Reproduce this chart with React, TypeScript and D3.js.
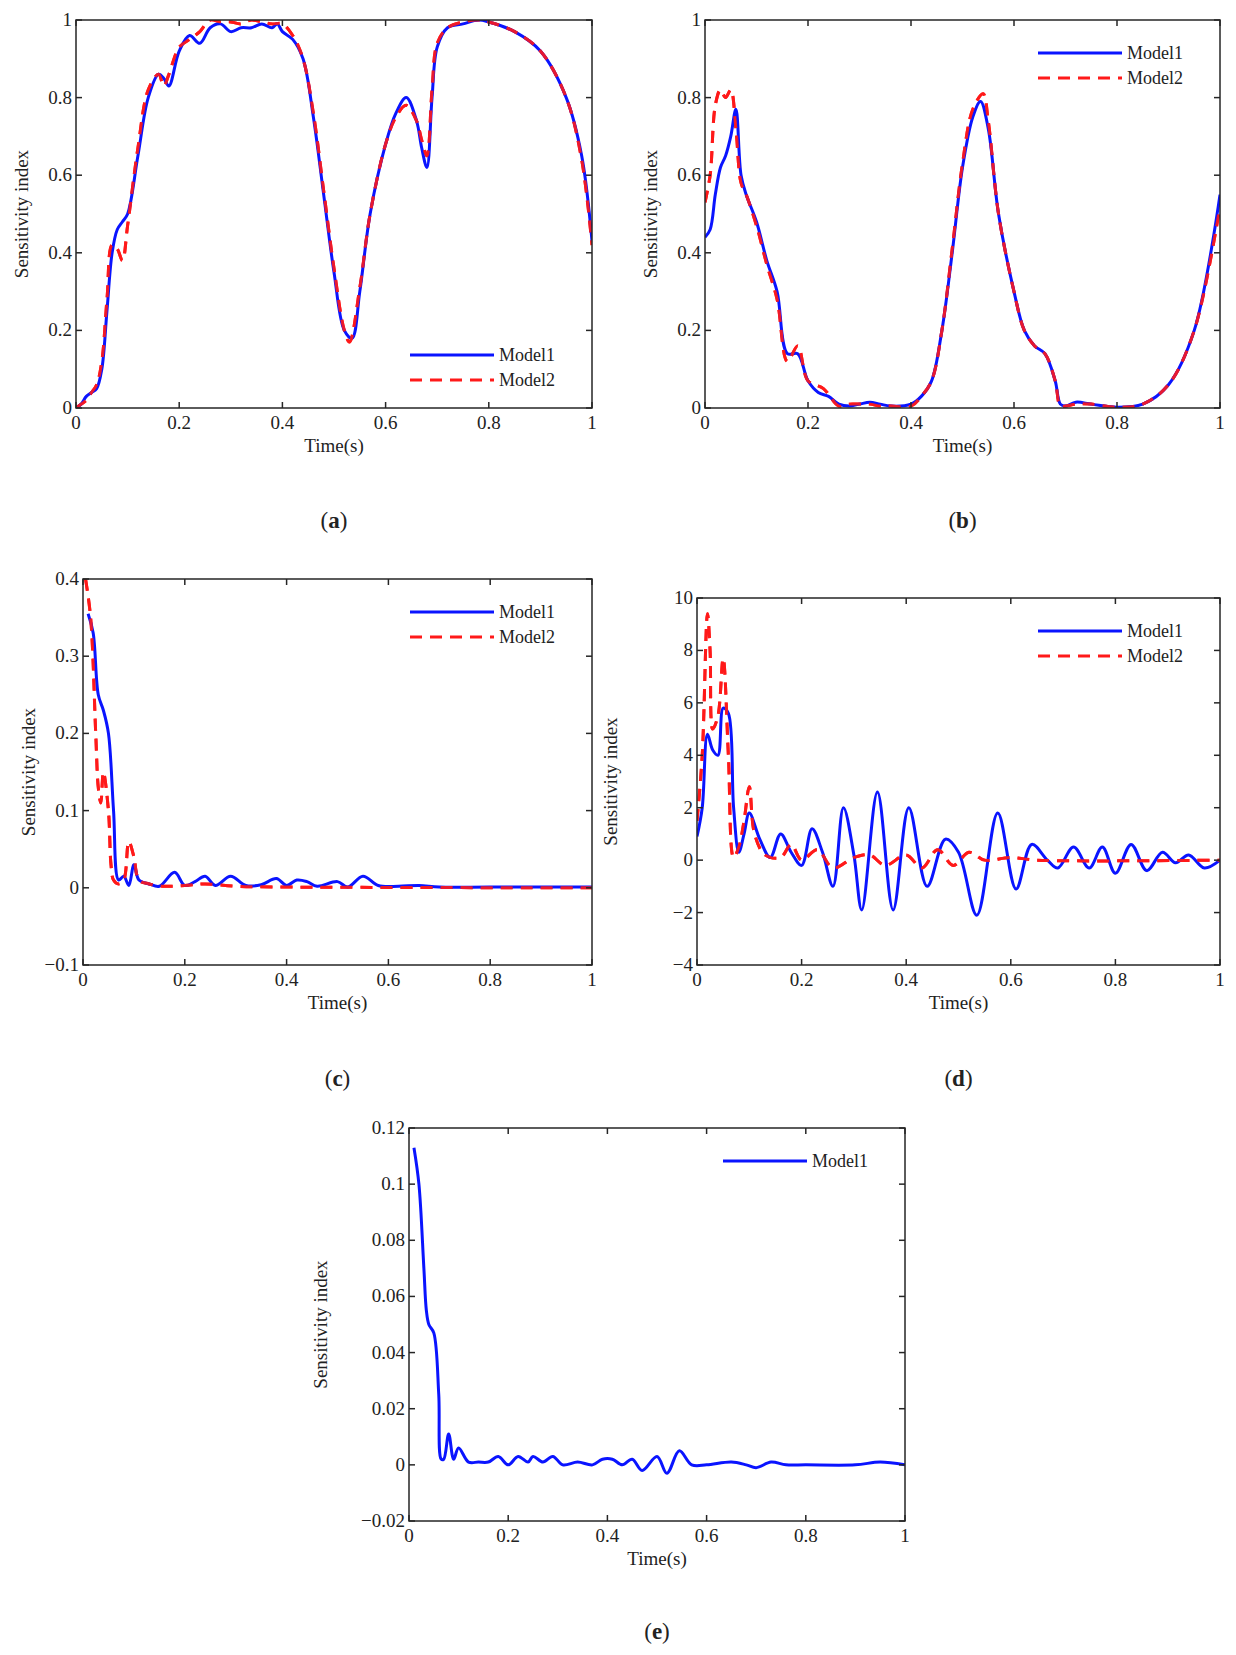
import * as d3 from 'd3'

type Pt = [number, number]

const xTicks = [0, 0.2, 0.4, 0.6, 0.8, 1]

const aModel1: Pt[] = [[0,0],[0.01,0.01],[0.02,0.03],[0.03,0.04],[0.04,0.05],[0.05,0.1],[0.06,0.25],[0.07,0.4],[0.08,0.46],[0.09,0.48],[0.1,0.5],[0.12,0.65],[0.14,0.8],[0.16,0.86],[0.17,0.85],[0.18,0.83],[0.2,0.92],[0.22,0.96],[0.24,0.94],[0.26,0.98],[0.28,0.99],[0.3,0.97],[0.32,0.98],[0.34,0.98],[0.36,0.99],[0.38,0.98],[0.39,0.99],[0.4,0.97],[0.42,0.95],[0.44,0.9],[0.46,0.75],[0.48,0.55],[0.5,0.35],[0.52,0.2],[0.535,0.18],[0.55,0.3],[0.57,0.5],[0.6,0.68],[0.62,0.76],[0.64,0.8],[0.66,0.74],[0.67,0.67],[0.68,0.62],[0.69,0.8],[0.7,0.93],[0.72,0.98],[0.75,0.99],[0.78,1.0],[0.8,0.995],[0.85,0.97],[0.9,0.92],[0.95,0.8],[0.98,0.65],[1,0.43]]
const aModel2: Pt[] = [[0,0],[0.01,0.01],[0.02,0.02],[0.03,0.04],[0.04,0.06],[0.05,0.12],[0.06,0.28],[0.07,0.42],[0.08,0.41],[0.09,0.38],[0.1,0.47],[0.12,0.67],[0.14,0.82],[0.16,0.86],[0.17,0.83],[0.18,0.86],[0.2,0.93],[0.22,0.95],[0.24,0.97],[0.26,1.0],[0.28,0.995],[0.3,0.995],[0.32,0.99],[0.34,1.0],[0.36,0.995],[0.38,0.99],[0.4,0.99],[0.42,0.96],[0.44,0.9],[0.46,0.76],[0.48,0.56],[0.5,0.36],[0.52,0.2],[0.53,0.17],[0.55,0.31],[0.57,0.5],[0.6,0.68],[0.62,0.75],[0.64,0.78],[0.66,0.74],[0.67,0.69],[0.68,0.65],[0.69,0.82],[0.7,0.94],[0.72,0.98],[0.75,0.995],[0.78,1.0],[0.8,0.995],[0.85,0.97],[0.9,0.92],[0.95,0.8],[0.98,0.64],[1,0.42]]

const bModel1: Pt[] = [[0,0.44],[0.01,0.46],[0.02,0.55],[0.03,0.62],[0.04,0.65],[0.05,0.7],[0.06,0.77],[0.07,0.6],[0.08,0.55],[0.1,0.48],[0.12,0.38],[0.14,0.3],[0.16,0.14],[0.18,0.14],[0.2,0.07],[0.22,0.04],[0.24,0.03],[0.26,0.01],[0.28,0.005],[0.3,0.01],[0.32,0.015],[0.34,0.01],[0.36,0.005],[0.4,0.01],[0.42,0.03],[0.44,0.07],[0.46,0.2],[0.48,0.4],[0.5,0.62],[0.52,0.75],[0.535,0.79],[0.55,0.72],[0.57,0.5],[0.6,0.3],[0.62,0.2],[0.64,0.16],[0.66,0.14],[0.68,0.07],[0.69,0.01],[0.7,0.005],[0.72,0.015],[0.75,0.01],[0.8,0.002],[0.85,0.01],[0.9,0.06],[0.95,0.2],[1,0.55]]
const bModel2: Pt[] = [[0,0.53],[0.01,0.6],[0.02,0.78],[0.03,0.82],[0.04,0.8],[0.05,0.82],[0.06,0.72],[0.07,0.58],[0.08,0.55],[0.1,0.47],[0.12,0.37],[0.14,0.28],[0.16,0.12],[0.18,0.16],[0.2,0.07],[0.23,0.05],[0.26,0.005],[0.28,0.01],[0.3,0.01],[0.32,0.01],[0.34,0.005],[0.36,0.005],[0.4,0.005],[0.42,0.03],[0.44,0.07],[0.46,0.2],[0.48,0.41],[0.5,0.63],[0.52,0.77],[0.54,0.81],[0.55,0.74],[0.57,0.5],[0.6,0.3],[0.62,0.2],[0.64,0.16],[0.66,0.14],[0.68,0.07],[0.69,0.005],[0.7,0.005],[0.72,0.01],[0.75,0.01],[0.8,0.002],[0.85,0.01],[0.9,0.06],[0.95,0.2],[1,0.52]]

const cModel1: Pt[] = [[0.01,0.355],[0.02,0.33],[0.03,0.25],[0.04,0.23],[0.05,0.2],[0.06,0.1],[0.07,0.01],[0.08,0.015],[0.09,0.003],[0.1,0.03],[0.11,0.01],[0.13,0.005],[0.15,0.002],[0.18,0.02],[0.2,0.003],[0.22,0.008],[0.24,0.015],[0.26,0.003],[0.29,0.015],[0.32,0.003],[0.35,0.004],[0.38,0.012],[0.4,0.003],[0.42,0.01],[0.44,0.008],[0.46,0.002],[0.5,0.008],[0.52,0.001],[0.55,0.015],[0.58,0.003],[0.62,0.002],[0.66,0.003],[0.7,0.001],[0.8,0.001],[1,0.001]]
const cModel2: Pt[] = [[0.005,0.4],[0.015,0.35],[0.025,0.2],[0.03,0.13],[0.035,0.11],[0.04,0.15],[0.05,0.1],[0.055,0.03],[0.06,0.01],[0.07,0.005],[0.08,0.01],[0.09,0.06],[0.1,0.04],[0.11,0.01],[0.13,0.005],[0.16,0.002],[0.2,0.003],[0.24,0.005],[0.3,0.002],[0.4,0.001],[1,0]]

const dModel1: Pt[] = [[0,0.9],[0.01,2],[0.02,4.8],[0.03,4.2],[0.04,4],[0.05,5.8],[0.06,5.6],[0.07,2],[0.08,0.3],[0.09,1],[0.1,1.8],[0.12,0.8],[0.14,0.1],[0.16,1],[0.18,0.3],[0.2,-0.2],[0.22,1.2],[0.24,0.3],[0.26,-1],[0.28,2],[0.3,0.2],[0.315,-1.9],[0.345,2.6],[0.375,-1.9],[0.405,2],[0.44,-1],[0.475,0.8],[0.5,0.3],[0.535,-2.1],[0.575,1.8],[0.61,-1.1],[0.64,0.6],[0.67,0],[0.69,-0.3],[0.72,0.5],[0.75,-0.3],[0.775,0.5],[0.8,-0.5],[0.83,0.6],[0.86,-0.4],[0.89,0.3],[0.915,-0.1],[0.94,0.2],[0.97,-0.3],[1,0]]
const dModel2: Pt[] = [[0,1.5],[0.01,4],[0.02,9.4],[0.025,8],[0.03,5],[0.04,5.5],[0.05,7.7],[0.06,4],[0.07,0.1],[0.08,0.5],[0.09,1.5],[0.1,2.8],[0.11,1],[0.13,0.2],[0.16,0.1],[0.18,0.6],[0.2,0],[0.23,0.4],[0.26,-0.3],[0.3,0.1],[0.33,0.2],[0.36,-0.2],[0.4,0.2],[0.43,-0.3],[0.46,0.4],[0.49,-0.2],[0.52,0.3],[0.55,0],[0.6,0.1],[0.65,0],[1,0]]

const eModel1: Pt[] = [[0.01,0.113],[0.02,0.1],[0.03,0.07],[0.035,0.055],[0.04,0.05],[0.05,0.047],[0.06,0.025],[0.065,0.002],[0.07,0.002],[0.08,0.011],[0.09,0.002],[0.1,0.006],[0.12,0.001],[0.14,0.001],[0.16,0.001],[0.18,0.003],[0.2,0],[0.22,0.003],[0.24,0.001],[0.25,0.003],[0.27,0.001],[0.29,0.003],[0.31,0],[0.34,0.001],[0.37,0],[0.39,0.002],[0.41,0.002],[0.43,0],[0.45,0.002],[0.47,-0.002],[0.5,0.003],[0.52,-0.003],[0.545,0.005],[0.57,0],[0.6,0],[0.65,0.001],[0.68,0],[0.7,-0.001],[0.73,0.001],[0.76,0],[0.8,0],[0.9,0],[0.95,0.001],[1,0]]

type Panel = {
  x: number; y: number; w: number; h: number
  yDomain: [number, number]; yTicks: number[]
  m1: Pt[]; m2?: Pt[]
  legend: 'top' | 'bottom'
  tag: string
  legendDx: number
}

const panels: Panel[] = [
  { x: 76, y: 20, w: 516, h: 388, yDomain: [0, 1], yTicks: [0, 0.2, 0.4, 0.6, 0.8, 1], m1: aModel1, m2: aModel2, legend: 'bottom', tag: 'a', legendDx: 100 },
  { x: 705, y: 20, w: 515, h: 388, yDomain: [0, 1], yTicks: [0, 0.2, 0.4, 0.6, 0.8, 1], m1: bModel1, m2: bModel2, legend: 'top', tag: 'b', legendDx: 100 },
  { x: 83, y: 579, w: 509, h: 386, yDomain: [-0.1, 0.4], yTicks: [-0.1, 0, 0.1, 0.2, 0.3, 0.4], m1: cModel1, m2: cModel2, legend: 'top', tag: 'c', legendDx: 100 },
  { x: 697, y: 598, w: 523, h: 367, yDomain: [-4, 10], yTicks: [-4, -2, 0, 2, 4, 6, 8, 10], m1: dModel1, m2: dModel2, legend: 'top', tag: 'd', legendDx: 100 },
  { x: 409, y: 1128, w: 496, h: 393, yDomain: [-0.02, 0.12], yTicks: [-0.02, 0, 0.02, 0.04, 0.06, 0.08, 0.1, 0.12], m1: eModel1, legend: 'top', tag: 'e', legendDx: 100 },
]

const font = '"Liberation Serif", "Times New Roman", serif'
const fmt = (v: number) => (v < 0 ? '\u2212' + String(+(-v).toFixed(3)) : String(+v.toFixed(3)))

function PanelView({ p }: { p: Panel }) {
  const x = d3.scaleLinear().domain([0, 1]).range([0, p.w])
  const y = d3.scaleLinear().domain(p.yDomain).range([p.h, 0])
  const line = d3.line<Pt>().x(d => x(d[0])).y(d => y(d[1])).curve(d3.curveCatmullRom.alpha(0.5))
  const tl = 6
  const ly = p.legend === 'top' ? 33 : p.h - 53
  const lx = p.w - 182
  return (
    <g transform={`translate(${p.x},${p.y})`} fontFamily={font} fill="#222">
      <defs>
        <clipPath id={`clip-${p.tag}`}><rect width={p.w} height={p.h} /></clipPath>
      </defs>
      <g clipPath={`url(#clip-${p.tag})`}>
        {p.m2 && <path d={line(p.m2) ?? ''} fill="none" stroke="#ff1a1a" strokeWidth={3} strokeDasharray="12 8" />}
        <path d={line(p.m1) ?? ''} fill="none" stroke="#0a14ff" strokeWidth={3} />
        {p.m2 && <path d={line(p.m2) ?? ''} fill="none" stroke="#ff1a1a" strokeWidth={3} strokeDasharray="12 8" opacity={0.9} />}
      </g>
      <rect width={p.w} height={p.h} fill="none" stroke="#262626" strokeWidth={1.5} />
      {xTicks.map(t => (
        <g key={t}>
          <line x1={x(t)} x2={x(t)} y1={p.h} y2={p.h - tl} stroke="#262626" strokeWidth={1.5} />
          <line x1={x(t)} x2={x(t)} y1={0} y2={tl} stroke="#262626" strokeWidth={1.5} />
          <text x={x(t)} y={p.h + 21} textAnchor="middle" fontSize={19}>{fmt(t)}</text>
        </g>
      ))}
      {p.yTicks.map(t => (
        <g key={t}>
          <line x1={0} x2={tl} y1={y(t)} y2={y(t)} stroke="#262626" strokeWidth={1.5} />
          <line x1={p.w} x2={p.w - tl} y1={y(t)} y2={y(t)} stroke="#262626" strokeWidth={1.5} />
          <text x={-4} y={y(t) + 6} textAnchor="end" fontSize={19}>{fmt(t)}</text>
        </g>
      ))}
      <text x={p.w / 2} y={p.h + 44} textAnchor="middle" fontSize={19}>Time(s)</text>
      <text transform={`translate(${p.y > 1000 ? -82 : p.tag === 'd' ? -80 : -48},${p.h / 2}) rotate(-90)`} textAnchor="middle" fontSize={19}>Sensitivity index</text>
      <line x1={lx} x2={lx + 84} y1={ly} y2={ly} stroke="#0a14ff" strokeWidth={3} />
      <text x={lx + 89} y={ly + 6} fontSize={18}>Model1</text>
      {p.m2 && (
        <>
          <line x1={lx} x2={lx + 84} y1={ly + 25} y2={ly + 25} stroke="#ff1a1a" strokeWidth={3} strokeDasharray="12 8" />
          <text x={lx + 89} y={ly + 31} fontSize={18}>Model2</text>
        </>
      )}
      <text x={p.w / 2} y={p.h + (p.tag === 'e' ? 118 : p.tag === 'c' || p.tag === 'd' ? 121 : 120)} textAnchor="middle" fontSize={23}>
        (<tspan fontWeight="bold">{p.tag}</tspan>)
      </text>
    </g>
  )
}

export default function App() {
  return (
    <svg width={1220} height={1640} viewBox="8 8 1220 1640" style={{ display: 'block', background: '#fff' }}>
      {panels.map(p => <PanelView key={p.tag} p={p} />)}
    </svg>
  )
}
